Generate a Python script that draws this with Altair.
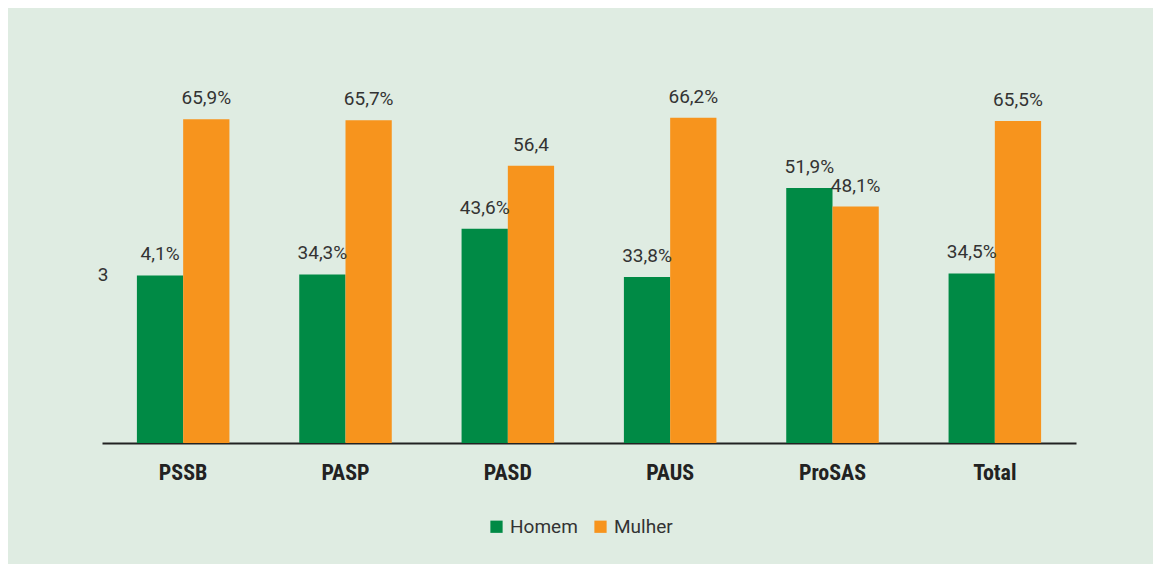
import altair as alt
import pandas as pd

categories = ["PSSB", "PASP", "PASD", "PAUS", "ProSAS", "Total"]
homem = [34.1, 34.3, 43.6, 33.8, 51.9, 34.5]
mulher = [65.9, 65.7, 56.4, 66.2, 48.1, 65.5]
homem_labels = ["4,1%", "34,3%", "43,6%", "33,8%", "51,9%", "34,5%"]
mulher_labels = ["65,9%", "65,7%", "56,4", "66,2%", "48,1%", "65,5%"]
series = ["Homem", "Mulher"]
colors = ["#008a45", "#f7941d"]

rows = []
for i, c in enumerate(categories):
    rows.append({"cat": c, "sexo": "Homem", "v": homem[i], "lab": homem_labels[i]})
    rows.append({"cat": c, "sexo": "Mulher", "v": mulher[i], "lab": mulher_labels[i]})
df = pd.DataFrame(rows)

stray = pd.DataFrame([{"cat": "PSSB", "sexo": "Homem", "v": homem[0], "lab": "3"}])

x = alt.X("cat:N", sort=categories, title=None,
          scale=alt.Scale(paddingInner=0.43, paddingOuter=0.215),
          axis=alt.Axis(domainColor="#222222", domainWidth=2, ticks=False,
                        labelAngle=0, labelFont="Roboto Condensed, Liberation Sans Narrow, Arial Narrow, Roboto, sans-serif",
                        labelFontWeight="bold", labelFontSize=22, labelColor="#222222",
                        labelPadding=19))
y = alt.Y("v:Q", scale=alt.Scale(domain=[0, 70]), axis=None)
xo = alt.XOffset("sexo:N", sort=series, scale=alt.Scale(paddingInner=0, paddingOuter=0))

bars = alt.Chart(df).mark_bar().encode(
    x=x, y=y, xOffset=xo,
    color=alt.Color("sexo:N", sort=series, scale=alt.Scale(domain=series, range=colors),
                    legend=alt.Legend(title=None, orient="none", direction="horizontal",
                                      legendX=385, legendY=418, symbolType="square",
                                      symbolSize=150, symbolStrokeWidth=0, labelFontSize=19,
                                      labelFont="Roboto, sans-serif", labelColor="#333333",
                                      columnPadding=13, labelOffset=4)),
)

labels = alt.Chart(df).mark_text(baseline="bottom", dy=-11, fontSize=19,
                                 font="Roboto, sans-serif", color="#333333").encode(
    x=x, y=y, xOffset=xo, text="lab:N")

stray_txt = alt.Chart(stray).mark_text(baseline="middle", dx=-57, fontSize=19,
                                       font="Roboto, sans-serif", color="#333333").encode(
    x=x, y=y, xOffset=xo, text="lab:N")

chart = alt.layer(bars, labels, stray_txt).properties(
    width=974, height=344,
    background="#dfece2",
    autosize=alt.AutoSizeParams(type="none"),
    padding={"left": 94, "top": 91, "right": 77, "bottom": 121},
).configure_view(stroke=None)

chart.save("out.html", embed_options={"renderer": "svg", "actions": False})
